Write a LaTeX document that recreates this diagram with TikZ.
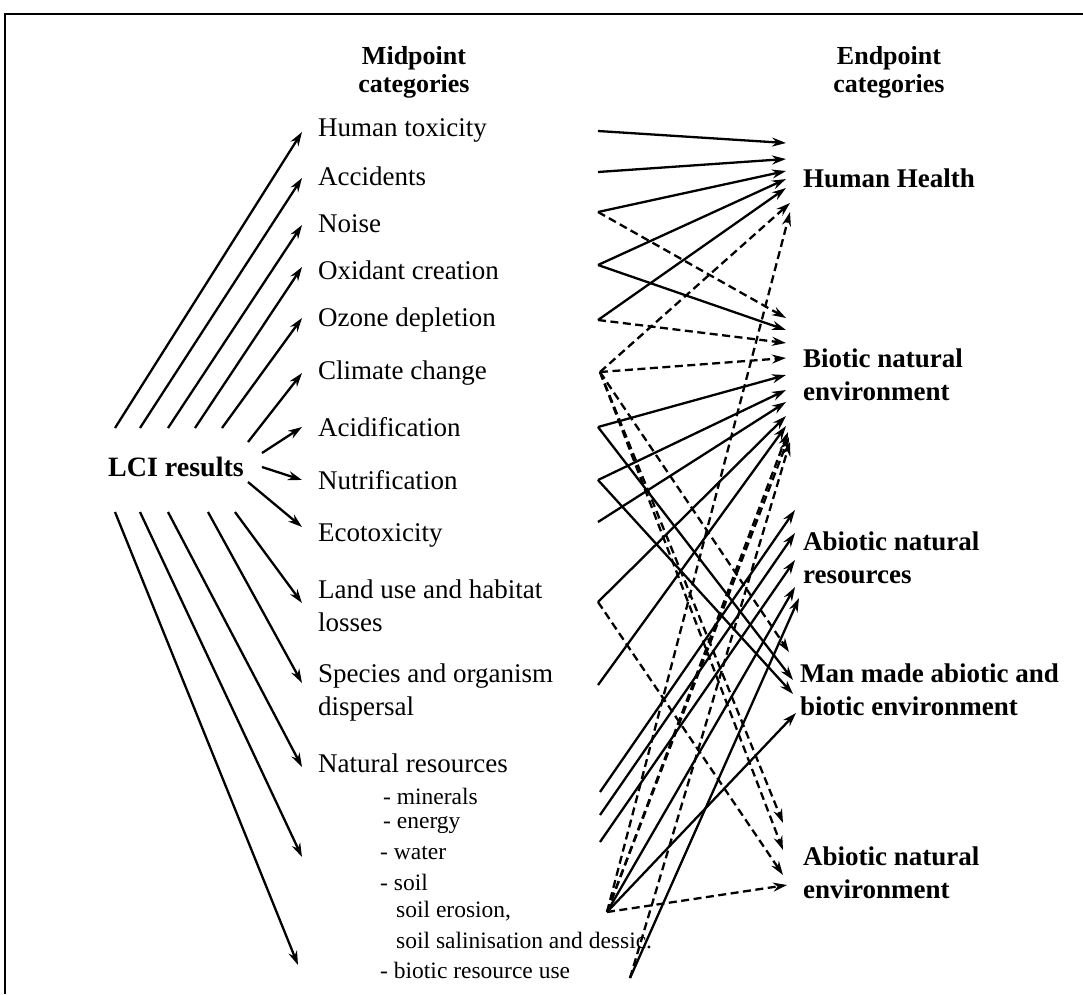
\documentclass[tikz,border=0pt]{standalone}
\usepackage{fontspec}
\setmainfont{Liberation Serif}
\usetikzlibrary{arrows.meta}
\begin{document}
\begin{tikzpicture}[x=1pt,y=-1pt,
  arr/.style={line width=2.3pt,-{Stealth[length=14pt,width=9pt]}},
  darr/.style={arr,dash pattern=on 8pt off 4.5pt},
  mid/.style={anchor=west,inner sep=0pt,align=left,font=\fontsize{27}{33}\selectfont},
  sub/.style={anchor=west,inner sep=0pt,font=\fontsize{23.5}{29}\selectfont},
  endp/.style={anchor=west,inner sep=0pt,align=left,font=\fontsize{27}{33}\selectfont\bfseries},
  head/.style={inner sep=0pt,align=center,font=\fontsize{26}{28}\selectfont\bfseries}]
\useasboundingbox (0,0) rectangle (1083,994);
\fill[white] (0,0) rectangle (1083,994);
\draw[line width=1.6pt] (5,994) -- (5,14) -- (1083,14);

% headers
\node[head] (hmid) at (414,72) {Midpoint\\categories};
\node[head] (hend) at (889,72) {Endpoint\\categories};

% LCI
\node[anchor=west,inner sep=0pt,font=\fontsize{28}{30}\selectfont\bfseries] (lci) at (108,467) {LCI results};

% midpoint labels
\node[mid] (ht)  at (318,130) {Human toxicity};
\node[mid] (acc) at (318,176) {Accidents};
\node[mid] (noi) at (318,224) {Noise};
\node[mid] (oxi) at (318,270) {Oxidant creation};
\node[mid] (ozo) at (318,320) {Ozone depletion};
\node[mid] (cli) at (318,373) {Climate change};
\node[mid] (aci) at (318,427) {Acidification};
\node[mid] (nut) at (318,480) {Nutrification};
\node[mid] (eco) at (318,535) {Ecotoxicity};
\node[mid] (lan) at (318,606) {Land use and habitat\\losses};
\node[mid] (spe) at (318,692) {Species and organism\\dispersal};
\node[mid] (nat) at (318,763) {Natural resources};
\node[sub] (s1) at (383,796) {- minerals};
\node[sub] (s2) at (383,825) {- energy};
\node[sub] (s3) at (380,853) {- water};
\node[sub] (s4) at (380,882) {- soil};
\node[sub] (s5) at (396,911) {soil erosion,};
\node[sub] (s6) at (396,940) {soil salinisation and dessic.};
\node[sub] (s7) at (380,970) {- biotic resource use};

% endpoint labels
\node[endp] (hh)  at (803,178) {Human Health};
\node[endp] (bio) at (803,375) {Biotic natural\\environment};
\node[endp] (abr) at (803,558) {Abiotic natural\\resources};
\node[endp] (man) at (800,690) {Man made abiotic and\\biotic environment};
\node[endp] (abe) at (803,873) {Abiotic natural\\environment};

% LCI -> midpoint arrows
\foreach \n/\sx/\sy/\ex/\ey in {
  1/115/428/302/132, 2/140/428/302/178, 3/168/428/302/225, 4/195/428/302/267,
  5/222/428/302/318, 6/248/442/302/373, 7/262/453/302/427, 8/262/467/302/480,
  9/248/482/302/527, 10/235/512/302/603, 11/208/512/302/683, 12/168/512/302/767,
  13/140/512/302/857, 14/115/512/298/965}{
  \coordinate (ls\n) at (\sx,\sy);
  \coordinate (le\n) at (\ex,\ey);
  \draw[arr] (ls\n) -- (le\n);
}

% sources at midpoints
\coordinate (sHT) at (598,131);
\coordinate (sAcc) at (598,172);
\coordinate (sNoi) at (598,212);
\coordinate (sOx) at (598,265);
\coordinate (sOz) at (598,320);
\coordinate (sCC) at (600,372);
\coordinate (sAc) at (598,427);
\coordinate (sNu) at (598,480);
\coordinate (sEco) at (598,522);
\coordinate (sLU) at (598,602);
\coordinate (sSp) at (598,685);
\coordinate (sMin) at (600,792);
\coordinate (sEn) at (600,815);
\coordinate (sWa) at (600,842);
\coordinate (sSo) at (607,912);
\coordinate (sBi) at (630,978);

% targets at endpoints
\coordinate (h1) at (786,143);
\coordinate (h2) at (786,159);
\coordinate (h3) at (786,171);
\coordinate (h4) at (786,179);
\coordinate (h5) at (786,188);
\coordinate (h6) at (790,203);
\coordinate (h7) at (790,212);
\coordinate (b1) at (786,318);
\coordinate (b2) at (786,330);
\coordinate (b3) at (786,343);
\coordinate (b4) at (786,358);
\coordinate (b5) at (786,375);
\coordinate (b6) at (786,390);
\coordinate (b7) at (786,402);
\coordinate (b8) at (786,416);
\coordinate (b9) at (786,426);
\coordinate (b10) at (788,432);
\coordinate (b11) at (789,437);
\coordinate (b12) at (790,442);
\coordinate (r1) at (795,510);
\coordinate (r2) at (795,533);
\coordinate (r3) at (795,560);
\coordinate (r4) at (795,587);
\coordinate (r5) at (799,598);
\coordinate (m1) at (789,652);
\coordinate (m2) at (793,680);
\coordinate (m3) at (793,694);
\coordinate (m4) at (796,713);
\coordinate (e1) at (783,823);
\coordinate (e2) at (783,850);
\coordinate (e3) at (783,875);
\coordinate (e4) at (787,885);

% solid connections
\draw[arr] (sHT) -- (h1);
\draw[arr] (sAcc) -- (h2);
\draw[arr] (sNoi) -- (h3);
\draw[arr] (sOx) -- (h4);
\draw[arr] (sOz) -- (h5);
\draw[arr] (sOx) -- (b2);
\draw[arr] (sAc) -- (b5);
\draw[arr] (sNu) -- (b6);
\draw[arr] (sEco) -- (b7);
\draw[arr] (sLU) -- (b8);
\draw[arr] (sSp) -- (b9);
\draw[arr] (sAc) -- (m2);
\draw[arr] (sNu) -- (m3);
\draw[arr] (sMin) -- (r1);
\draw[arr] (sEn) -- (r2);
\draw[arr] (sWa) -- (r3);
\draw[arr] (sSo) -- (r4);
\draw[arr] (sBi) -- (r5);
\draw[arr] (sSo) -- (m4);

% dashed connections
\draw[darr] (sNoi) -- (b1);
\draw[darr] (sOz) -- (b3);
\draw[darr] (sCC) -- (h6);
\draw[darr] (sCC) -- (b4);
\draw[darr] (sCC) -- (m1);
\draw[darr] (sCC) -- (e1);
\draw[darr] (sCC) -- (e2);
\draw[darr] (sLU) -- (e3);
\draw[darr] (sSo) -- (h7);
\draw[darr] (sSo) -- (b10);
\draw[darr] (sSo) -- (b11);
\draw[darr] (sBi) -- (b12);
\draw[darr] (sSo) -- (e4);
\end{tikzpicture}
\end{document}
